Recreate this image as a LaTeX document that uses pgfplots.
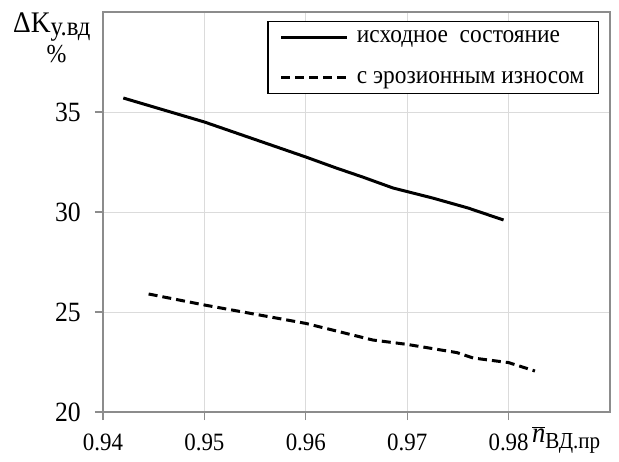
\documentclass[border=0pt]{standalone}
\usepackage{fontspec}
\setmainfont{Liberation Serif}[FakeStretch=0.92]
\usepackage{pgfplots}
\pgfplotsset{compat=1.18}

\pgfplotstableread{
x       y
0.9420  35.70
0.9500  34.50
0.9600  32.75
0.9630  32.20
0.9656  31.75
0.9686  31.20
0.9725  30.70
0.9760  30.20
0.9795  29.60
}\initial

\pgfplotstableread{
x       y
0.9445  25.90
0.9500  25.35
0.9600  24.43
0.9666  23.60
0.9700  23.38
0.9749  22.97
0.9765  22.70
0.9800  22.47
0.9826  22.05
}\eroded

\begin{document}
\begin{tikzpicture}
\begin{axis}[
  scale only axis,
  width=507bp, height=400bp,
  xmin=0.94, xmax=0.99, ymin=20, ymax=40,
  xtick={0.94,0.95,0.96,0.97,0.98},
  ytick={20,25,30,35},
  xticklabels={0.94,0.95,0.96,0.97,0.98},
  xtick pos=bottom, ytick pos=left,
  tick align=outside, major tick length=8bp,
  grid=major,
  major grid style={draw=black!14, line width=1bp},
  axis line style={draw=black!45, line width=1.2bp},
  tick style={draw=black!45, line width=1.2bp},
  /pgf/number format/assume math mode=true,
  xticklabel style={font=\fontsize{25}{27}\selectfont, inner sep=0pt, anchor=north, yshift=-14bp},
  yticklabel style={font=\fontsize{28}{30}\selectfont, inner sep=0pt, anchor=east, xshift=-14bp},
  legend style={
    at={(0.978,0.9775)}, anchor=north east,
    draw=black, line width=1.2bp,
    font=\fontsize{25.5}{28}\selectfont,
    inner xsep=12bp, inner ysep=7bp,
    row sep=23bp,
    cells={anchor=west},
  },
  legend image code/.code={%
    \draw[#1] (0bp,0bp) -- (66bp,0bp);
    \path (0bp,0bp) (72bp,0bp);},
  clip=false,
]
\addplot[black, line width=3bp, line join=round] table[x=x,y=y] {\initial};
\addlegendentry{исходное\ \ состояние}
\addplot[black, line width=3bp, dash pattern=on 9bp off 5bp] table[x=x,y=y] {\eroded};
\addlegendentry{с эрозионным износом}

\coordinate (sw) at (rel axis cs:0,0);
\coordinate (ne) at (rel axis cs:1,1);

% axis titles
\node[anchor=base west, inner sep=0pt, font=\fontsize{30}{32}\selectfont]
  at ([xshift=-90bp,yshift=-21bp]rel axis cs:0,1)
  {ΔK\raisebox{-3bp}{\fontsize{27}{29}\selectfont у.вд}};
\node[anchor=base, inner sep=0pt, font=\fontsize{26}{28}\selectfont]
  at ([xshift=-46.5bp,yshift=-51bp]rel axis cs:0,1) {\%};
\node[anchor=base west, inner sep=0pt, font=\fontsize{29}{31}\selectfont]
  at ([xshift=-78bp,yshift=-30bp]rel axis cs:1,0)
  {$\overline{\mbox{\itshape n}}$\raisebox{-6bp}{\fontsize{23}{25}\selectfont ВД.пр}};
\end{axis}
\pgfresetboundingbox
\path[use as bounding box] ([shift={(-103bp,-49bp)}]sw) rectangle ([shift={(9bp,12bp)}]ne);
\end{tikzpicture}
\end{document}
